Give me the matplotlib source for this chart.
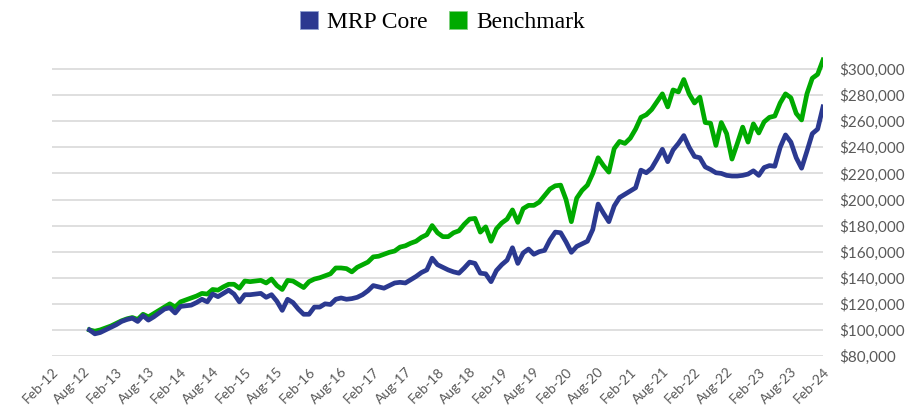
import numpy as np
import matplotlib
matplotlib.use("Agg")
import matplotlib.pyplot as plt
from matplotlib.patches import Patch
from matplotlib.ticker import FuncFormatter

# 월 번호: Feb-12 = 0, 데이터는 Sep-12 (7) 부터 Feb-24 (144) 까지
start_month = 7

mrp_core = [100, 97, 98, 100, 102, 104, 106.5, 108, 109, 106.5, 111, 107.5, 110, 113, 116, 117, 113,
            118, 118.5, 119, 121, 123.5, 121.5, 127.5, 125.5, 128, 130.5, 127.5, 121.5, 127, 127, 127.5,
            128, 125, 127, 122, 115, 123.5, 121, 116, 112, 112, 117.5, 117.5, 120, 119.5, 123.5, 124.5,
            123.5, 124, 125, 127, 130, 134, 133, 132, 134, 136, 136.5, 136, 138.5, 141, 144, 146, 155,
            150, 148, 146, 144.5, 143.5, 147.5, 152, 151, 143.5, 143, 137, 145.5, 150, 153.5, 163, 151,
            159, 162, 158, 160, 161, 169, 175, 174.5, 167.5, 159.5, 164, 166, 168, 177, 196.5, 189.5,
            183, 195, 201.5, 204, 206.5, 209, 222.5, 220.5, 224, 231, 238.5, 229, 238, 243, 249, 240,
            233, 232, 225, 223, 220.5, 220, 218.5, 218, 218, 218.5, 219.5, 222, 218.5, 224.5, 226,
            225.5, 240, 249.5, 244, 232, 224, 237, 250.5, 254, 271]

benchmark = [100, 99, 100, 101.5, 103, 105, 107, 108.5, 109.5, 108, 112, 110, 112.5, 115, 117.5, 120,
             117.5, 121.5, 123, 124.5, 126, 128, 127.5, 131, 130.5, 133, 135, 135, 132, 137.5, 137,
             137.5, 138, 136, 139, 134, 131, 138, 137.5, 135, 132.5, 137, 139, 140, 141.5, 143, 147.5,
             147.5, 147, 144.5, 148, 150, 152, 156, 156.5, 158, 159.5, 160.5, 163.5, 164.5, 166.5, 168,
             171, 173, 180, 174.5, 171.5, 171.5, 174.5, 176, 181, 185, 185.5, 175, 179, 168, 177.5, 182,
             185, 192, 182.5, 193, 195.5, 195.5, 198, 203, 208, 210.5, 211, 200, 183, 201, 207, 211,
             220, 232, 226, 221, 239, 244.5, 243, 247, 254, 263, 265, 269, 275, 281, 271, 284, 282.5,
             292, 281, 274, 278.5, 259, 258.5, 241.5, 259, 250.5, 231, 243, 255.5, 244, 258, 251,
             259.5, 263, 264, 274, 281, 278, 266, 261, 281, 293, 296, 307]

tick_labels = ["Feb-12", "Aug-12", "Feb-13", "Aug-13", "Feb-14", "Aug-14", "Feb-15", "Aug-15",
               "Feb-16", "Aug-16", "Feb-17", "Aug-17", "Feb-18", "Aug-18", "Feb-19", "Aug-19",
               "Feb-20", "Aug-20", "Feb-21", "Aug-21", "Feb-22", "Aug-22", "Feb-23", "Aug-23", "Feb-24"]

blue = "#2B3990"
green = "#00AA00"
grey = "#595959"

x = np.arange(start_month, start_month + len(mrp_core))
core = np.array(mrp_core) * 1000
bench = np.array(benchmark) * 1000

fig = plt.figure(figsize=(9.11, 4.11), dpi=100)
ax = fig.add_axes([52 / 911, 1 - 356 / 411, (823 - 52) / 911, (356 - 43) / 411])

ax.plot(x, bench, color=green, lw=3.4, solid_joinstyle="round", zorder=3)
ax.plot(x, core, color=blue, lw=3.4, solid_joinstyle="round", zorder=4)

ax.set_xlim(0, 144)
ax.set_ylim(80000, 320000)
ax.set_yticks(np.arange(80000, 300001, 20000))
ax.yaxis.set_major_formatter(FuncFormatter(lambda v, p: "${:,.0f}".format(v)))
ax.yaxis.tick_right()
ax.grid(axis="y", color="#D9D9D9", lw=1.2)
ax.set_axisbelow(True)

ax.set_xticks(np.arange(0, 145, 6))
ax.set_xticklabels(tick_labels, rotation=45, ha="right", rotation_mode="anchor")

for s in ax.spines.values():
    s.set_visible(False)
ax.tick_params(axis="y", length=0, pad=12, labelcolor=grey, labelsize=11)
ax.tick_params(axis="x", length=0, pad=7, labelcolor=grey, labelsize=10)
for lab in ax.get_xticklabels() + ax.get_yticklabels():
    lab.set_fontfamily("Lato")

handles = [Patch(facecolor=blue, edgecolor="#8FA0D0", lw=0.6, label="MRP Core"),
           Patch(facecolor=green, edgecolor="#7FD07F", lw=0.6, label="Benchmark")]
fig.legend(handles=handles, loc="center", bbox_to_anchor=(0.486, 0.946), ncol=2, frameon=False,
           prop={"family": "Liberation Serif", "size": 17}, handlelength=0.75, handleheight=0.75,
           handletextpad=0.4, columnspacing=0.9)

fig.savefig("out.png", dpi=100)
